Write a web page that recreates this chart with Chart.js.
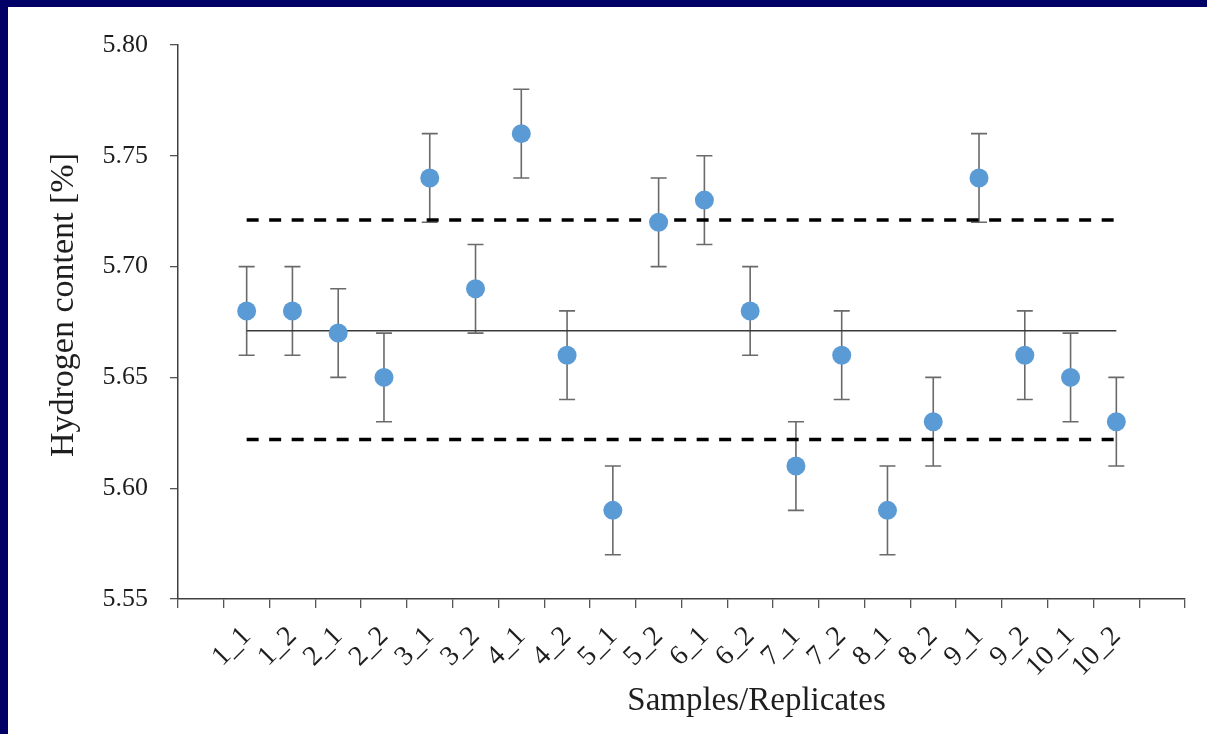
<!DOCTYPE html>
<html>
<head>
<meta charset="utf-8">
<script src="https://cdn.jsdelivr.net/npm/chart.js@4.4.0/dist/chart.umd.min.js"></script>
<style>
html,body{margin:0;padding:0;background:#000066;width:1207px;height:734px;overflow:hidden}
#box{position:absolute;left:8px;top:7px;width:1199px;height:727px;background:#fff}
</style>
</head>
<body>
<div id="box"><canvas id="chart"></canvas></div>
<script>
/* ===== data ===== */
const categories=["1_1","1_2","2_1","2_2","3_1","3_2","4_1","4_2","5_1","5_2",
"6_1","6_2","7_1","7_2","8_1","8_2","9_1","9_2","10_1","10_2"];
const hydrogen=[5.68,5.68,5.67,5.65,5.74,5.69,5.76,5.66,5.59,5.72,
5.73,5.68,5.61,5.66,5.59,5.63,5.74,5.66,5.65,5.63];
const errorBar=[0.02,0.02,0.02,0.02,0.02,0.02,0.02,0.02,0.02,0.02,
0.02,0.02,0.02,0.02,0.02,0.02,0.02,0.02,0.02,0.02];
const meanValue=5.671;
const upperLimit=5.721;
const lowerLimit=5.622;
const yTicks=[5.55,5.60,5.65,5.70,5.75,5.80];
const xTitle="Samples/Replicates";
const yTitle="Hydrogen content [%]";

/* one empty slot on each side, like the original */
const labels=["",...categories,""];
const pad=arr=>[null,...arr,null];
const flat=v=>pad(categories.map(()=>v));

const FONT="'Liberation Serif','Times New Roman',serif";
const TEXT="#1e1e1e";

/* error bars + axis titles */
const extras={
id:"extras",
beforeDatasetsDraw(chart){
const {ctx,scales:{x,y}}=chart;
ctx.save();
ctx.strokeStyle="#6a6a6a";
ctx.lineWidth=1.6;
categories.forEach((c,i)=>{
const px=x.getPixelForValue(i+1);
const top=y.getPixelForValue(hydrogen[i]+errorBar[i]);
const bot=y.getPixelForValue(hydrogen[i]-errorBar[i]);
ctx.beginPath();
ctx.moveTo(px,top);ctx.lineTo(px,bot);
ctx.moveTo(px-8,top);ctx.lineTo(px+8,top);
ctx.moveTo(px-8,bot);ctx.lineTo(px+8,bot);
ctx.stroke();
});
ctx.restore();
},
afterDraw(chart){
const {ctx,chartArea:a}=chart;
ctx.save();
ctx.fillStyle=TEXT;
ctx.font="33px "+FONT;
ctx.textAlign="center";
ctx.textBaseline="alphabetic";
ctx.fillText(xTitle,(a.left+a.right)/2+75,703);
ctx.font="34px "+FONT;
ctx.translate(65,(a.top+a.bottom)/2-17);
ctx.rotate(-Math.PI/2);
ctx.fillText(yTitle,0,0);
ctx.restore();
}
};

new Chart(document.getElementById("chart"),{
type:"line",
data:{
labels:labels,
datasets:[
{
label:"Hydrogen",
data:pad(hydrogen),
showLine:false,
pointRadius:9.5,
pointHoverRadius:9.5,
pointBackgroundColor:"#5B9BD5",
pointBorderWidth:0
},
{
label:"Mean",
data:flat(meanValue),
borderColor:"#3a3a3a",
borderWidth:1.5,
pointRadius:0
},
{
label:"Upper",
data:flat(upperLimit),
borderColor:"#000",
borderWidth:3.5,
borderDash:[12,10.5],
pointRadius:0
},
{
label:"Lower",
data:flat(lowerLimit),
borderColor:"#000",
borderWidth:3.5,
borderDash:[12,10.5],
pointRadius:0
}
]
},
options:{
responsive:true,
maintainAspectRatio:false,
animation:false,
layout:{padding:{top:38,right:22,left:0,bottom:0}},
plugins:{legend:{display:false},tooltip:{enabled:false}},
scales:{
x:{
type:"category",
offset:true,
grid:{offset:true,drawOnChartArea:false,tickLength:9,color:"#555",lineWidth:1.3},
border:{color:"#404040",width:1.5},
ticks:{
autoSkip:false,minRotation:45,maxRotation:45,padding:12,
color:TEXT,font:{family:FONT,size:28}
},
afterFit:s=>{s.height=135;}
},
y:{
min:5.55,max:5.80,
grid:{drawOnChartArea:false,tickLength:8,color:"#555",lineWidth:1.3},
border:{color:"#404040",width:1.5},
afterBuildTicks:s=>{s.ticks=yTicks.map(v=>({value:v}));},
ticks:{
padding:22,color:TEXT,font:{family:FONT,size:26},
callback:v=>Number(v).toFixed(2)
},
afterFit:s=>{s.width=170;}
}
}
},
plugins:[extras]
});
</script>
</body>
</html>
